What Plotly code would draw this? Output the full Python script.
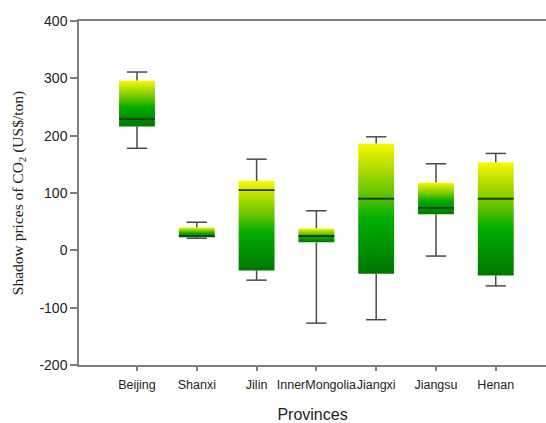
import plotly.graph_objects as go

provinces = ["Beijing", "Shanxi", "Jilin", "InnerMongolia", "Jiangxi", "Jiangsu", "Henan"]
whisker_low = [178, 21, -52, -127, -121, -10, -62]
q1 = [216, 23, -35, 14, -41, 63, -44]
median = [229, 25, 105, 25, 90, 74, 90]
q3 = [296, 40, 121, 38, 186, 118, 153]
whisker_high = [311, 49, 159, 69, 198, 151, 169]

y_ticks = [-200, -100, 0, 100, 200, 300, 400]
y_tick_labels = ["-200", "-100", "0", "100", "200", "300", "400"]

BOX_HALF = 0.30
CAP_HALF = 0.17
grad = [[0, "#007600"], [0.42, "#00ae00"], [0.62, "#66c400"], [1, "#f7f700"]]

fig = go.Figure()

# whiskers and caps
wx, wy = [], []
for i in range(len(provinces)):
    wx += [i, i, None, i, i, None,
           i - CAP_HALF, i + CAP_HALF, None, i - CAP_HALF, i + CAP_HALF, None]
    wy += [whisker_low[i], q1[i], None, q3[i], whisker_high[i], None,
           whisker_low[i], whisker_low[i], None, whisker_high[i], whisker_high[i], None]
fig.add_trace(go.Scatter(x=wx, y=wy, mode="lines",
                         line=dict(color="#4a4a4a", width=1.5),
                         hoverinfo="skip", showlegend=False))

# gradient boxes
for i, p in enumerate(provinces):
    fig.add_trace(go.Scatter(
        x=[i - BOX_HALF, i + BOX_HALF, i + BOX_HALF, i - BOX_HALF, i - BOX_HALF],
        y=[q1[i], q1[i], q3[i], q3[i], q1[i]],
        mode="lines", fill="toself",
        line=dict(width=0, color="rgba(0,0,0,0)"),
        fillgradient=dict(type="vertical", colorscale=grad),
        name=p, showlegend=False))

# medians
mx, my = [], []
for i in range(len(provinces)):
    mx += [i - BOX_HALF, i + BOX_HALF, None]
    my += [median[i], median[i], None]
fig.add_trace(go.Scatter(x=mx, y=my, mode="lines",
                         line=dict(color="#1e3a1e", width=1.8),
                         hoverinfo="skip", showlegend=False))

axis_col = "#7f7f7f"
fig.update_layout(
    width=546, height=423,
    margin=dict(l=79, r=0, t=21, b=58),
    plot_bgcolor="white", paper_bgcolor="white",
    font=dict(family="Liberation Sans, Arial, sans-serif", size=12, color="#222"),
    xaxis=dict(range=[-0.97, 6.84], tickmode="array",
               tickvals=list(range(len(provinces))), ticktext=provinces,
               tickangle=0, automargin=False, ticklabelstandoff=3,
               showgrid=False, zeroline=False, showline=True, mirror=True,
               linecolor=axis_col, linewidth=1.5, ticks="outside",
               ticklen=4, tickcolor=axis_col, tickwidth=1.5,
               tickfont=dict(size=12.5, color="#222"),
               title=dict(text="Provinces", font=dict(size=16, color="#222"), standoff=20)),
    yaxis=dict(range=[-200, 400], tickmode="array", tickvals=y_ticks,
               ticktext=y_tick_labels, automargin=False,
               showgrid=False, zeroline=False, showline=True,
               linecolor=axis_col, linewidth=1.5, ticks="outside",
               ticklen=7, tickcolor=axis_col, tickwidth=1.5,
               tickfont=dict(size=14, color="#222"),
               title=dict(text="Shadow prices of CO<sub>2</sub> (US$/ton)",
                          font=dict(family="Liberation Serif, Times New Roman, serif",
                                    size=15.5, color="#222"), standoff=12)),
)

fig.write_html("out.html")
